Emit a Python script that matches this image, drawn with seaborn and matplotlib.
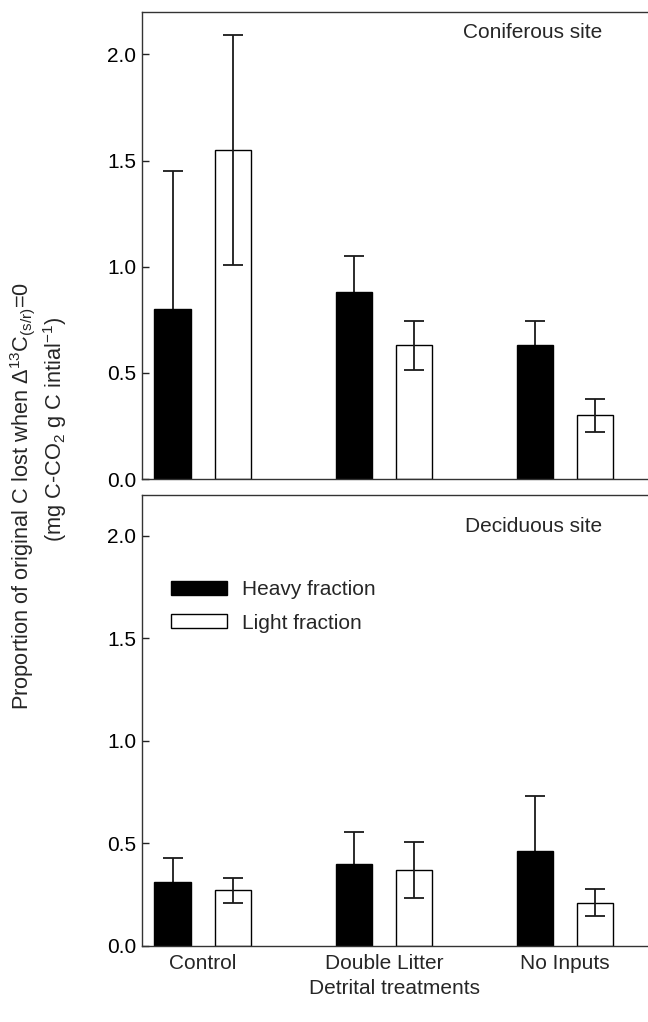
import matplotlib
matplotlib.use("Agg")
import matplotlib.pyplot as plt
import matplotlib.patches as patches
import seaborn as sns
import pandas as pd

treatments = ["Control", "Double Litter", "No Inputs"]
fractions = ["Heavy fraction", "Light fraction"]

# coniferous site: means and errors (heavy, light per treatment)
conif_heavy = [0.80, 0.88, 0.63]
conif_light = [1.55, 0.63, 0.30]
conif_heavy_err = [0.65, 0.17, 0.115]
conif_light_err = [0.54, 0.115, 0.077]

# deciduous site
decid_heavy = [0.31, 0.40, 0.46]
decid_light = [0.27, 0.37, 0.21]
decid_heavy_err = [0.12, 0.155, 0.268]
decid_light_err = [0.06, 0.138, 0.067]

sns.set_theme(style="ticks")
plt.rcParams['font.family'] = ['Liberation Sans', 'DejaVu Sans']
plt.rcParams['mathtext.default'] = 'regular'
plt.rcParams['font.size'] = 15


def make_df(heavy, light):
    rows = []
    for t, h, l in zip(treatments, heavy, light):
        rows.append({"treatment": t, "fraction": fractions[0], "value": h})
        rows.append({"treatment": t, "fraction": fractions[1], "value": l})
    return pd.DataFrame(rows)


def draw_panel(ax, heavy, light, herr, lerr):
    df = make_df(heavy, light)
    sns.barplot(data=df, x="treatment", y="value", hue="fraction",
                order=treatments, hue_order=fractions,
                palette=["black", "white"], edgecolor="black", linewidth=1.0,
                width=0.664, gap=0.4, errorbar=None, legend=False, ax=ax)
    # error bars from the drawn bars; the ones on black bars sit behind the bar
    bars = [p for p in ax.patches if isinstance(p, patches.Rectangle)]
    n = len(treatments)
    errs = herr + lerr
    for i, bar in enumerate(bars):
        xc = bar.get_x() + bar.get_width() / 2
        ax.errorbar(xc, bar.get_height(), yerr=errs[i], fmt='none', ecolor='#1a1a1a',
                    elinewidth=1.3, capsize=7, capthick=1.3,
                    zorder=0.5 if i < n else 3)
    ax.set_xlim(-0.336, 2.458)
    ax.set_ylim(0, 2.2)
    ax.set_yticks([0.0, 0.5, 1.0, 1.5, 2.0])
    ax.set_yticklabels(["0.0", "0.5", "1.0", "1.5", "2.0"])
    ax.tick_params(axis='y', direction='in', length=5, width=1, labelsize=15, pad=4,
                   colors='#222222', labelcolor='black')
    ax.tick_params(axis='x', length=0, labelsize=15, pad=6)
    ax.spines['right'].set_visible(False)
    for s in ['left', 'top', 'bottom']:
        ax.spines[s].set_linewidth(1.0)
        ax.spines[s].set_color('#333333')
    ax.set_ylabel("")
    ax.set_xlabel("")


fig = plt.figure(figsize=(6.48, 10.22), dpi=100)
ax1 = fig.add_axes([0.2187, 0.5313, 0.7813, 0.4570])
ax2 = fig.add_axes([0.2187, 0.0747, 0.7813, 0.4413])

draw_panel(ax1, conif_heavy, conif_light, conif_heavy_err, conif_light_err)
draw_panel(ax2, decid_heavy, decid_light, decid_heavy_err, decid_light_err)

fig.text(602 / 648, 1 - 33 / 1022, "Coniferous site", ha='right', va='center', fontsize=15)
fig.text(602 / 648, 1 - 527 / 1022, "Deciduous site", ha='right', va='center', fontsize=15)

ax1.set_xticklabels([])
ax2.set_xlabel("Detrital treatments", fontsize=15, labelpad=4)

# legend in lower panel
handles = [patches.Patch(facecolor="black", edgecolor="black", linewidth=1.0, label=fractions[0]),
           patches.Patch(facecolor="white", edgecolor="black", linewidth=1.0, label=fractions[1])]
ax2.legend(handles=handles, loc='upper left', bbox_to_anchor=(0.057, 0.810),
           frameon=False, fontsize=15, handlelength=2.7, handleheight=0.62,
           handletextpad=0.75, labelspacing=0.68, borderaxespad=0, borderpad=0)

fig.text(23 / 648, 1 - 496 / 1022, r'Proportion of original C lost when Δ$^{13}$C$_{(s/r)}$=0',
         rotation=90, ha='center', va='center', fontsize=15.7)
fig.text(55 / 648, 1 - 429 / 1022, r'(mg C-CO$_{2}$ g C intial$^{-1}$)',
         rotation=90, ha='center', va='center', fontsize=15.7)

fig.savefig("out.png", dpi=100)
